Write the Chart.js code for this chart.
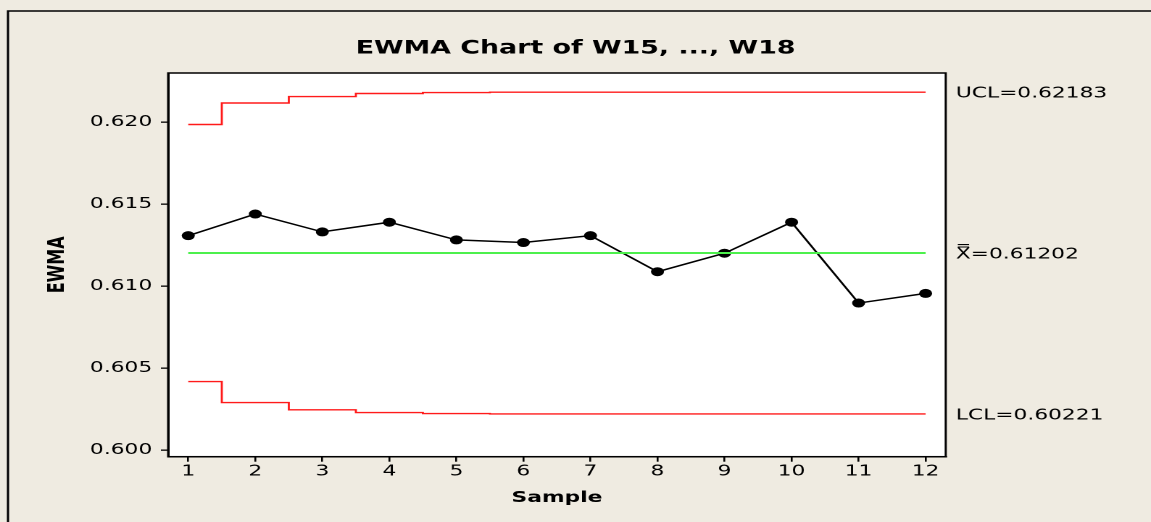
<!DOCTYPE html>
<html>
<head>
<meta charset="utf-8">
<script src="https://cdn.jsdelivr.net/npm/chart.js@4.4.1/dist/chart.umd.min.js"></script>
<style>
  html, body { margin: 0; padding: 0; background: #efebe1; overflow: hidden; }
  #wrap { width: 794px; height: 522px; transform: scaleX(1.4496); transform-origin: 0 0; }
  #c { width: 794px; height: 522px; display: block; }
</style>
</head>
<body>
<div id="wrap"><canvas id="c" width="794" height="522"></canvas></div>
<script>
// data
const samples = [1, 2, 3, 4, 5, 6, 7, 8, 9, 10, 11, 12];
const ewma = [0.61308, 0.61440, 0.61331, 0.61390, 0.61282, 0.61266, 0.61308, 0.61088, 0.61201, 0.61390, 0.60897, 0.60956];
const ucl = [0.61986, 0.62117, 0.62156, 0.62175, 0.62181, 0.62183, 0.62183, 0.62183, 0.62183, 0.62183, 0.62183, 0.62183];
const lcl = [0.60418, 0.60290, 0.60246, 0.60229, 0.60223, 0.60221, 0.60221, 0.60221, 0.60221, 0.60221, 0.60221, 0.60221];
const centerLine = 0.61202;
const uclValue = 0.62183;
const lclValue = 0.60221;
const yTicks = [0.600, 0.605, 0.610, 0.615, 0.620];

const FONT = 'DejaVu Sans';

const toPoints = (vals) => samples.map((s, i) => ({ x: s, y: vals[i] }));

// beige page, outer frame, white plot area
const backdrop = {
    id: 'backdrop',
    beforeDraw(chart) {
        const { ctx, chartArea: a } = chart;
        ctx.save();
        ctx.fillStyle = '#efebe1';
        ctx.fillRect(0, 0, chart.width, chart.height);
        ctx.strokeStyle = '#000';
        ctx.lineWidth = 1.5;
        ctx.strokeRect(5.5, 11, chart.width + 20, chart.height + 20);
        ctx.fillStyle = '#fff';
        ctx.fillRect(a.left, a.top, a.right - a.left, a.bottom - a.top);
        ctx.restore();
    },
    afterDraw(chart) {
        const { ctx, chartArea: a } = chart;
        ctx.save();
        ctx.strokeStyle = '#000';
        ctx.lineWidth = 1.5;
        ctx.strokeRect(a.left, a.top, a.right - a.left, a.bottom - a.top);
        ctx.restore();
    }
};

// limit labels on the right side
const limitLabels = {
    id: 'limitLabels',
    afterDraw(chart) {
        const { ctx, chartArea: a } = chart;
        const y = chart.scales.y;
        const x0 = a.right + 7;
        ctx.save();
        ctx.fillStyle = '#000';
        ctx.font = '15px "' + FONT + '"';
        ctx.textBaseline = 'middle';
        ctx.textAlign = 'left';
        ctx.fillText('UCL=' + uclValue.toFixed(5), x0, y.getPixelForValue(uclValue) + 1.5);
        ctx.fillText('X\u033F=' + centerLine.toFixed(5), x0, y.getPixelForValue(centerLine) + 1.5);
        ctx.fillText('LCL=' + lclValue.toFixed(5), x0, y.getPixelForValue(lclValue) + 1.5);
        ctx.restore();
    }
};

const ctx = document.getElementById('c').getContext('2d');
const chart = new Chart(ctx, {
    type: 'line',
    data: {
        datasets: [
            {
                label: 'UCL',
                data: toPoints(ucl),
                borderColor: '#ff1a1a',
                borderWidth: 1.4,
                stepped: 'middle',
                pointRadius: 0
            },
            {
                label: 'LCL',
                data: toPoints(lcl),
                borderColor: '#ff1a1a',
                borderWidth: 1.4,
                stepped: 'middle',
                pointRadius: 0
            },
            {
                label: 'Center',
                data: [{ x: samples[0], y: centerLine }, { x: samples[samples.length - 1], y: centerLine }],
                borderColor: '#4cf04c',
                borderWidth: 2,
                pointRadius: 0
            },
            {
                label: 'EWMA',
                data: toPoints(ewma),
                borderColor: '#000',
                borderWidth: 1.5,
                backgroundColor: '#000',
                pointRadius: 4.5,
                pointBorderWidth: 0,
                tension: 0
            }
        ]
    },
    options: {
        responsive: false,
        devicePixelRatio: 2,
        animation: false,
        layout: { padding: 0 },
        plugins: {
            legend: { display: false },
            tooltip: { enabled: false },
            title: {
                display: true,
                text: 'EWMA Chart of W15, ..., W18',
                color: '#000',
                font: { family: FONT, size: 18.5, weight: 'bold' },
                padding: { top: 37.5, bottom: 13.3 }
            }
        },
        scales: {
            x: {
                type: 'linear',
                min: 0.7,
                max: 12.3,
                afterBuildTicks: (scale) => { scale.ticks = samples.map(v => ({ value: v })); },
                afterFit: (scale) => { scale.height = 65.3; },
                ticks: {
                    color: '#000',
                    font: { family: FONT, size: 15 },
                    padding: 1,
                    maxRotation: 0,
                    callback: (v) => String(v)
                },
                grid: { display: true, drawOnChartArea: false, tickLength: 5, color: '#000', lineWidth: 1.3 },
                border: { display: true, color: '#000', width: 1.5 },
                title: {
                    display: true,
                    text: 'Sample',
                    color: '#000',
                    font: { family: FONT, size: 15, weight: 'bold' },
                    padding: { top: 0, bottom: 15 }
                }
            },
            y: {
                type: 'linear',
                min: 0.5996,
                max: 0.6230,
                afterBuildTicks: (scale) => { scale.ticks = yTicks.map(v => ({ value: v })); },
                afterFit: (scale) => { scale.width = 116; },
                ticks: {
                    color: '#000',
                    font: { family: FONT, size: 15 },
                    padding: 6,
                    callback: (v) => v.toFixed(3)
                },
                grid: { display: true, drawOnChartArea: false, tickLength: 5, color: '#000', lineWidth: 1.3 },
                border: { display: true, color: '#000', width: 1.5 },
                title: {
                    display: true,
                    text: 'EWMA',
                    color: '#000',
                    font: { family: FONT, size: 16, weight: 'bold' },
                    padding: { top: 30, bottom: 0 }
                }
            },
            // empty right-hand strip that holds the limit labels
            side: {
                type: 'linear',
                position: 'right',
                display: true,
                ticks: { display: false },
                grid: { display: false, drawTicks: false },
                border: { display: false },
                afterFit: (scale) => { scale.width = 141.6; }
            }
        }
    },
    plugins: [backdrop, limitLabels]
});
</script>
</body>
</html>
